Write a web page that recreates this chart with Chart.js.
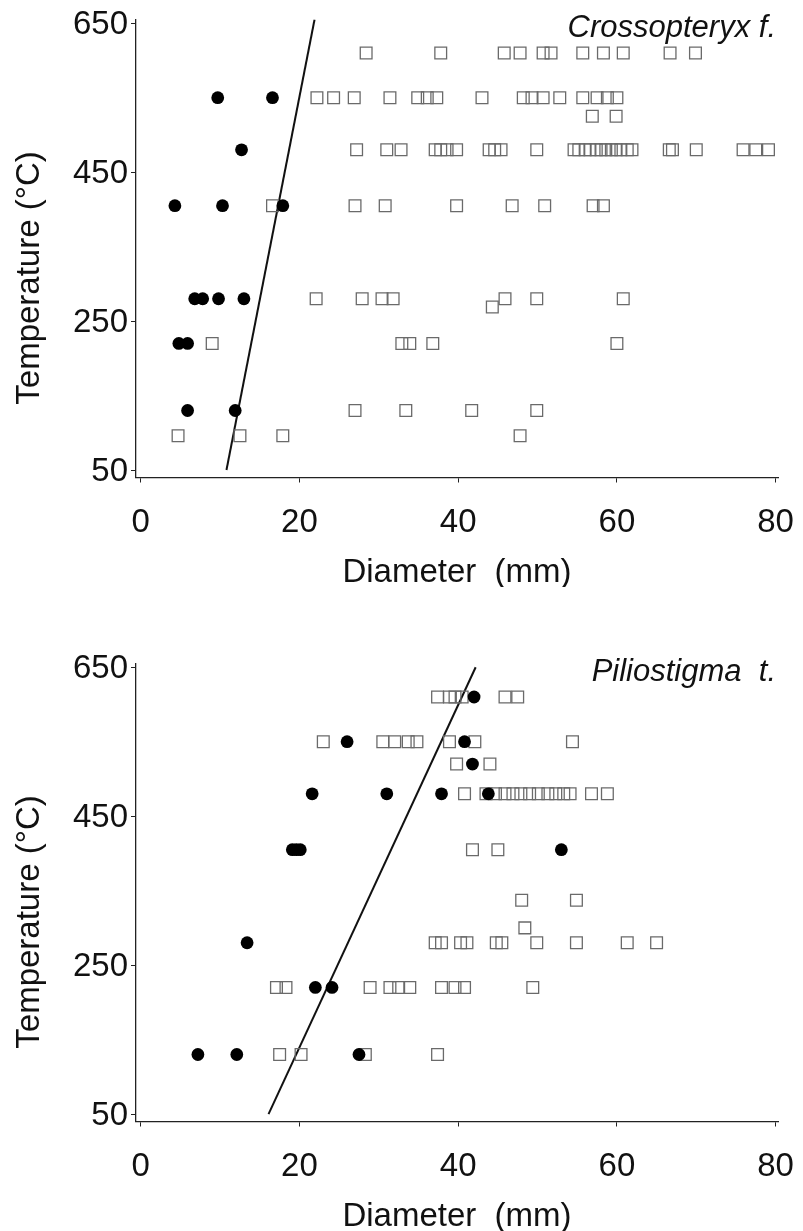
<!DOCTYPE html>
<html>
<head>
<meta charset="utf-8">
<script src="https://cdn.jsdelivr.net/npm/chart.js@4.4.1/dist/chart.umd.min.js"></script>
<style>
  body { margin: 0; background: #fff; }
  .panel { position: absolute; left: 0; width: 803px; height: 587px; }
</style>
</head>
<body>
<div class="panel" style="top:0"><canvas id="crossChart" width="803" height="587"></canvas></div>
<div class="panel" style="top:644px"><canvas id="pilioChart" width="803" height="587"></canvas></div>
<script>
// tick labels
const xTicks = [0, 20, 40, 60, 80];
const yTicks = [50, 250, 450, 650];

// Crossopteryx f. : [diameter mm, temperature C]
const crossFilled = [
    [9.7, 550], [16.6, 550], [12.7, 480],
    [4.3, 405], [10.3, 405], [17.9, 405],
    [6.8, 280], [7.8, 280], [9.8, 280], [13.0, 280],
    [4.8, 220], [5.9, 220], [5.9, 130], [11.9, 130]
];
const crossOpen = [
    [28.4, 610], [37.8, 610], [45.8, 610], [47.8, 610], [50.7, 610], [51.7, 610],
    [55.7, 610], [58.3, 610], [60.8, 610], [66.7, 610], [69.9, 610],
    [22.2, 550], [24.3, 550], [26.9, 550], [31.4, 550], [34.9, 550], [36.1, 550],
    [37.3, 550], [43.0, 550], [48.2, 550], [49.3, 550], [50.7, 550], [52.8, 550],
    [55.7, 550], [57.5, 550], [58.8, 550], [60.0, 550],
    [56.9, 525], [59.9, 525],
    [27.2, 480], [31.0, 480], [32.8, 480], [37.1, 480], [37.8, 480], [38.6, 480],
    [39.8, 480], [43.9, 480], [44.6, 480], [45.4, 480], [49.9, 480], [54.6, 480],
    [55.2, 480], [56.0, 480], [56.6, 480], [57.4, 480], [58.0, 480], [58.6, 480],
    [59.3, 480], [59.9, 480], [60.5, 480], [61.3, 480], [61.9, 480], [66.6, 480],
    [67.0, 480], [70.0, 480], [75.9, 480], [77.5, 480], [79.1, 480],
    [16.6, 405], [27.0, 405], [30.8, 405], [39.8, 405], [46.8, 405], [50.9, 405],
    [57.0, 405], [58.3, 405],
    [22.1, 280], [27.9, 280], [30.4, 280], [31.8, 280], [45.9, 280], [49.9, 280],
    [60.8, 280], [44.3, 269],
    [9.0, 220], [32.9, 220], [33.9, 220], [36.8, 220], [60.0, 220],
    [27.0, 130], [33.4, 130], [41.7, 130], [49.9, 130],
    [4.7, 96], [12.5, 96], [17.9, 96], [47.8, 96]
];
const crossLine = [[10.8, 50], [21.9, 655]];

// Piliostigma t.
const pilioFilled = [
    [42.0, 610], [26.0, 550], [40.8, 550], [41.8, 520],
    [21.6, 480], [31.0, 480], [37.9, 480], [43.8, 480],
    [19.1, 405], [19.6, 405], [20.1, 405], [53.0, 405],
    [13.4, 280], [22.0, 220], [24.1, 220],
    [7.2, 130], [12.1, 130], [27.5, 130]
];
const pilioOpen = [
    [37.4, 610], [38.9, 610], [39.6, 610], [40.5, 610], [45.9, 610], [47.5, 610],
    [23.0, 550], [30.5, 550], [32.0, 550], [33.7, 550], [34.8, 550], [38.9, 550],
    [42.1, 550], [54.4, 550],
    [39.8, 520], [44.0, 520],
    [40.8, 480], [43.5, 480], [44.7, 480], [45.9, 480], [46.9, 480], [47.9, 480],
    [49.0, 480], [50.1, 480], [51.3, 480], [52.3, 480], [53.3, 480], [54.1, 480],
    [56.8, 480], [58.8, 480],
    [41.8, 405], [45.0, 405],
    [48.0, 337], [54.9, 337], [48.4, 300],
    [37.1, 280], [37.9, 280], [40.3, 280], [41.1, 280], [44.8, 280], [45.5, 280],
    [49.9, 280], [54.9, 280], [61.3, 280], [65.0, 280],
    [17.1, 220], [18.3, 220], [28.9, 220], [31.4, 220], [32.5, 220], [33.9, 220],
    [37.9, 220], [39.6, 220], [40.8, 220], [49.4, 220],
    [17.5, 130], [20.2, 130], [28.3, 130], [37.4, 130]
];
const pilioLine = [[16.1, 50], [42.2, 650]];

const FONT = '"Liberation Sans", Arial, Helvetica, sans-serif';
const INK = "#111";

const toPoints = list => list.map(p => ({ x: p[0], y: p[1] }));

// y title and species name drawn inside the panel
const panelText = {
    id: "panelText",
    afterDraw(chart, args, opts) {
        const ctx = chart.ctx;
        ctx.save();
        ctx.fillStyle = INK;
        ctx.font = "33px " + FONT;
        ctx.textAlign = "center";
        ctx.textBaseline = "alphabetic";
        ctx.translate(39, 278);
        ctx.rotate(-Math.PI / 2);
        ctx.fillText("Temperature (°C)", 0, 0);
        ctx.restore();

        ctx.save();
        ctx.fillStyle = INK;
        ctx.font = "italic 31px " + FONT;
        ctx.textAlign = "right";
        ctx.textBaseline = "alphabetic";
        ctx.fillText(opts.species, 776, 37);
        ctx.restore();
    }
};

function makeChart(id, species, filled, open, line) {
    const ctx = document.getElementById(id).getContext("2d");
    return new Chart(ctx, {
        type: "scatter",
        data: {
            datasets: [
                {
                    data: toPoints(filled),
                    pointStyle: "circle",
                    pointRadius: 6.4,
                    backgroundColor: "#000",
                    borderWidth: 0
                },
                {
                    data: toPoints(open),
                    pointStyle: "rect",
                    pointRadius: 8.3,
                    backgroundColor: "rgba(0,0,0,0)",
                    borderColor: "#6a6a6a",
                    borderWidth: 1.3
                },
                {
                    type: "line",
                    data: toPoints(line),
                    showLine: true,
                    pointRadius: 0,
                    borderColor: "#111",
                    borderWidth: 2,
                    fill: false
                }
            ]
        },
        options: {
            responsive: false,
            animation: false,
            events: [],
            layout: { padding: { top: 19.5, right: 25, left: 0, bottom: 0 } },
            plugins: {
                legend: { display: false },
                tooltip: { enabled: false },
                panelText: { species: species }
            },
            scales: {
                x: {
                    type: "linear",
                    min: -0.6,
                    max: 80.3,
                    afterBuildTicks: s => { s.ticks = xTicks.map(v => ({ value: v })); },
                    afterFit: s => {
                        s.height = 109.5;
                        s.paddingLeft = 0;
                        s.paddingRight = 0;
                    },
                    grid: { drawOnChartArea: false, drawTicks: true, tickLength: 5, color: "#222" },
                    border: { display: true, color: "#222", width: 1.3 },
                    ticks: {
                        padding: 21,
                        maxRotation: 0,
                        color: INK,
                        font: { family: FONT, size: 33 }
                    },
                    title: {
                        display: true,
                        text: "Diameter  (mm)",
                        color: INK,
                        padding: { top: 0, bottom: -2 },
                        font: { family: FONT, size: 33, lineHeight: 1 }
                    }
                },
                y: {
                    type: "linear",
                    min: 40,
                    max: 655,
                    afterBuildTicks: s => { s.ticks = yTicks.map(v => ({ value: v })); },
                    afterFit: s => {
                        s.width = 136;
                        s.paddingTop = 0;
                        s.paddingBottom = 0;
                    },
                    grid: { drawOnChartArea: false, drawTicks: true, tickLength: 5, color: "#222" },
                    border: { display: true, color: "#222", width: 1.3 },
                    ticks: {
                        padding: 3,
                        labelOffset: 2,
                        color: INK,
                        font: { family: FONT, size: 33 }
                    }
                }
            }
        },
        plugins: [panelText]
    });
}

makeChart("crossChart", "Crossopteryx f.", crossFilled, crossOpen, crossLine);
makeChart("pilioChart", "Piliostigma  t.", pilioFilled, pilioOpen, pilioLine);
</script>
</body>
</html>
